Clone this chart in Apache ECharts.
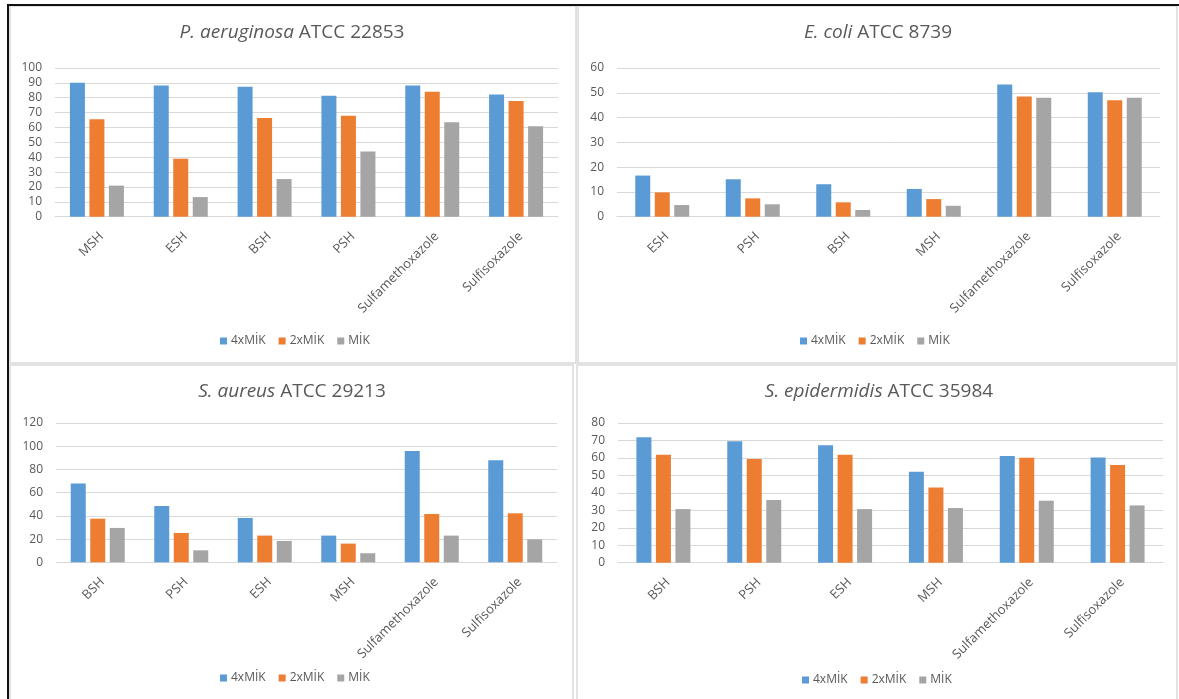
<!DOCTYPE html>
<html>
<head>
<meta charset="utf-8">
<script src="https://cdn.jsdelivr.net/npm/echarts@6/dist/echarts.min.js"></script>
<style>
html,body{margin:0;padding:0;background:#fff;}
#chart{width:1179px;height:699px;}
</style>
</head>
<body>
<div id="chart"></div>
<script>
// ---- data ----
const seriesNames = ['4xMİK', '2xMİK', 'MİK'];

const paCategories = ['MSH', 'ESH', 'BSH', 'PSH', 'Sulfamethoxazole', 'Sulfisoxazole'];
const pa4x = [90, 88.3, 87.4, 81.4, 88.3, 82.1];
const pa2x = [65.5, 39, 66.4, 67.9, 84.1, 77.8];
const pa1x = [20.9, 13.2, 25.3, 43.9, 63.5, 60.8];

const ecCategories = ['ESH', 'PSH', 'BSH', 'MSH', 'Sulfamethoxazole', 'Sulfisoxazole'];
const ec4x = [16.6, 15.1, 13.1, 11.2, 53.3, 50.2];
const ec2x = [9.8, 7.4, 5.8, 7.1, 48.5, 47.0];
const ec1x = [4.7, 5.0, 2.7, 4.4, 48.0, 48.0];

const saCategories = ['BSH', 'PSH', 'ESH', 'MSH', 'Sulfamethoxazole', 'Sulfisoxazole'];
const sa4x = [67.8, 48.5, 38.2, 23, 95.9, 87.9];
const sa2x = [37.6, 25.3, 23, 16.1, 41.6, 42.2];
const sa1x = [29.6, 10.3, 18.4, 7.8, 23, 19.8];

const seCategories = ['BSH', 'PSH', 'ESH', 'MSH', 'Sulfamethoxazole', 'Sulfisoxazole'];
const se4x = [71.8, 69.5, 67.2, 52.1, 61.1, 60.3];
const se2x = [61.8, 59.4, 61.8, 43.1, 60.1, 55.9];
const se1x = [30.7, 35.9, 30.7, 31.3, 35.5, 32.8];

const yMax = [100, 60, 120, 80];
const yInterval = [10, 10, 20, 10];
const titlesItalic = ['P. aeruginosa', 'E. coli', 'S. aureus', 'S. epidermidis'];
const titlesRest = [' ATCC 22853', ' ATCC 8739', ' ATCC 29213', ' ATCC 35984'];

// ---- layout / style ----
const FONT = 'Open Sans';
const TXT = '#595959';
const GRIDC = '#D9D9D9';
const colors = ['#5B9BD5', '#ED7D31', '#A5A5A5'];

const panels = [
  { cats: paCategories, vals: [pa4x, pa2x, pa1x], grid: { left: 55, top: 68, width: 503, height: 148.7 }, titleX: 292, titleY: 33, legend: { left: 215, top: 330 } },
  { cats: ecCategories, vals: [ec4x, ec2x, ec1x], grid: { left: 617, top: 68, width: 543, height: 148.7 }, titleX: 878, titleY: 33, legend: { left: 795, top: 330 } },
  { cats: saCategories, vals: [sa4x, sa2x, sa1x], grid: { left: 56, top: 423, width: 501, height: 139.3 }, titleX: 292, titleY: 392, legend: { left: 215, top: 667 } },
  { cats: seCategories, vals: [se4x, se2x, se1x], grid: { left: 618, top: 423, width: 545, height: 139.7 }, titleX: 879, titleY: 392, legend: { left: 797, top: 669 } }
];

const grids = [], xAxes = [], yAxes = [], series = [], legends = [], graphics = [];

panels.forEach((p, i) => {
  grids.push(Object.assign({ containLabel: false }, p.grid));
  xAxes.push({
    type: 'category', gridIndex: i, data: p.cats,
    axisLine: { lineStyle: { color: GRIDC, width: 1 } },
    axisTick: { show: false },
    axisLabel: { rotate: 45, color: TXT, fontFamily: FONT, fontSize: 13, margin: 13, interval: 0, verticalAlign: 'top' }
  });
  yAxes.push({
    type: 'value', gridIndex: i, min: 0, max: yMax[i], interval: yInterval[i],
    axisLine: { show: false }, axisTick: { show: false },
    axisLabel: { color: TXT, fontFamily: FONT, fontSize: 12, margin: 13 },
    splitLine: { lineStyle: { color: GRIDC, width: 1 } }
  });
  seriesNames.forEach((n, k) => {
    series.push({
      type: 'bar', name: n, xAxisIndex: i, yAxisIndex: i, data: p.vals[k],
      itemStyle: { color: colors[k] },
      barWidth: 15, barGap: '30%', animation: false
    });
  });
  legends.push({
    data: seriesNames, left: p.legend.left, top: p.legend.top,
    icon: 'rect', itemWidth: 7, itemHeight: 7, itemGap: 13,
    textStyle: { color: TXT, fontFamily: FONT, fontSize: 12, padding: [0, 0, 0, -1] },
    selectedMode: false
  });
  graphics.push({
    type: 'text', x: p.titleX, y: p.titleY, silent: true,
    style: {
      text: '{i|' + titlesItalic[i] + '}{n|' + titlesRest[i] + '}',
      textAlign: 'center', textVerticalAlign: 'middle', align: 'center', verticalAlign: 'middle',
      rich: {
        i: { fontFamily: FONT, fontSize: 19, fontStyle: 'italic', fill: TXT, color: TXT },
        n: { fontFamily: FONT, fontSize: 19, fill: TXT, color: TXT }
      }
    }
  });
});

// panel borders
const borderStyle = { stroke: '#D9D9D9', lineWidth: 1.5, fill: null };
[
  [10, 6, 566, 357],
  [578, 6, 599, 357],
  [10, 365, 563, 340],
  [577, 365, 600, 340]
].forEach(r => graphics.push({ type: 'rect', silent: true, shape: { x: r[0], y: r[1], width: r[2], height: r[3] }, style: borderStyle }));
graphics.push({ type: 'line', silent: true, shape: { x1: 7, y1: 5, x2: 1179, y2: 5 }, style: { stroke: '#111', lineWidth: 2 } });
graphics.push({ type: 'line', silent: true, shape: { x1: 8, y1: 4, x2: 8, y2: 699 }, style: { stroke: '#111', lineWidth: 2 } });

const chart = echarts.init(document.getElementById('chart'), null, { renderer: 'canvas' });
chart.setOption({
  animation: false,
  backgroundColor: '#fff',
  textStyle: { fontFamily: FONT },
  grid: grids, xAxis: xAxes, yAxis: yAxes, series: series, legend: legends,
  graphic: graphics
});
</script>
</body>
</html>
